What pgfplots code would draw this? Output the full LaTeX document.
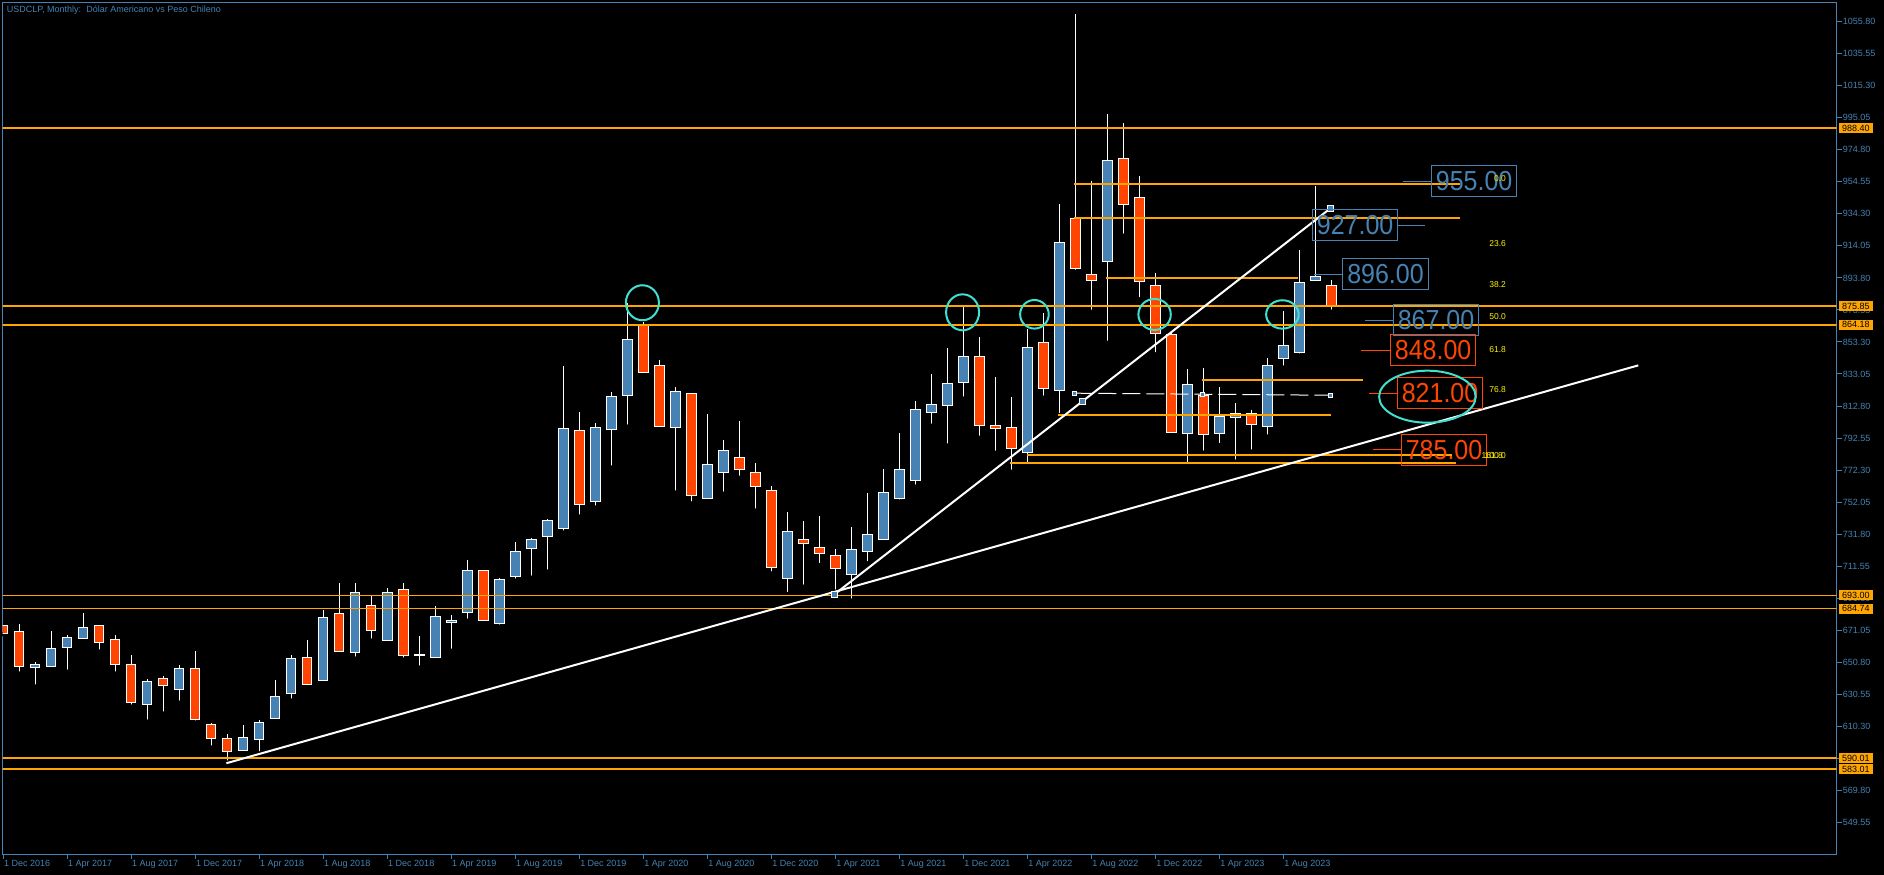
\documentclass[border=0pt]{standalone}
\usepackage{pgfplots}
\usepackage{pgfplotstable}
\pgfplotsset{compat=1.18}
\usepackage{fontspec}
\setmainfont{Liberation Sans}

\definecolor{mtblue}{RGB}{70,130,180}
\definecolor{mtred}{RGB}{255,69,0}
\definecolor{mtorange}{RGB}{255,165,0}
\definecolor{mtcyan}{RGB}{64,224,208}
\newcommand\sm{\fontsize{9bp}{10bp}\selectfont}
\newcommand\bigf{\fontsize{25bp}{25bp}\selectfont}

% monthly candles, i=0 is Dec 2016
\pgfplotstableread{
i o h l c
0 673.9 674.5 668.5 669.1
1 670.35 675.0 643.6 648.2
2 647.6 650.75 635.4 649.5
3 648.2 670.6 648.0 659.6
4 660.2 668.0 644.8 666.6
5 665.9 681.9 664.4 672.9
6 674.1 674.5 657.5 663.4
7 665.3 668.0 643.6 649.5
8 649.5 655.4 622.7 625.5
9 624.2 640.2 613.2 638.7
10 640.6 642.1 618.3 636.2
11 633.7 648.85 625.2 647.0
12 647.0 657.9 612.6 614.7
13 611.5 612.4 596.8 602.7
14 602.5 605.2 587.3 594.5
15 595.1 611.1 593.8 603.1
16 602.1 614.1 593.2 612.8
17 615.3 639.6 615.0 629.25
18 631.15 655.35 626.5 653.25
19 653.85 664.85 635.95 636.85
20 639.35 683.85 638.45 679.15
21 681.75 700.85 656.45 657.65
22 657.05 700.85 653.05 694.95
23 686.75 692.85 664.45 670.95
24 664.65 697.75 663.15 694.95
25 696.85 700.85 652.45 655.15
26 655.1 667.35 647.35 655.5
27 653.85 686.35 653.5 679.85
28 676.05 680.65 658.05 677.25
29 682.35 715.45 677.05 708.85
30 708.85 709.2 676.45 677.25
31 675.35 704.05 673.25 703.2
32 705.1 726.85 702.35 720.95
33 722.85 729.35 704.25 728.45
34 730.35 741.35 708.05 740.55
35 735.35 838.1 732.75 798.65
36 797.45 809.05 742.85 750.65
37 752.55 802.05 748.55 799.35
38 798.05 821.45 773.85 818.95
39 819.55 877.75 799.75 854.95
40 864.05 866.0 832.65 834.05
41 838.55 841.85 798.45 799.75
42 799.35 824.65 758.05 822.05
43 820.85 821.0 751.25 756.15
44 754.25 807.75 754.0 775.95
45 770.65 791.3 757.35 784.75
46 780.35 803.35 767.45 772.75
47 770.85 776.75 746.65 761.75
48 759.45 762.05 707.0 710.75
49 703.65 745.75 693.95 733.55
50 728.45 740.05 698.55 725.95
51 723.45 743.25 712.25 719.65
52 718.35 722.15 695.4 710.15
53 706.35 736.25 689.75 722.15
54 720.95 757.75 713.35 731.65
55 728.45 772.95 727.05 758.25
56 754.25 795.55 752.35 772.75
57 765.8 815.95 761.8 810.65
58 808.8 833.05 800.35 813.85
59 813.05 849.25 787.75 827.15
60 827.75 875.65 817.45 844.25
61 844.25 856.45 792.75 800.55
62 800.55 831.15 783.25 798.65
63 799.35 818.45 771.25 786.05
64 783.55 861.45 775.05 849.9
65 853.05 871.85 818.05 823.95
66 822.7 940.5 807.1 916.3
67 931.4 1060.67 897.7 899.8
68 896.0 955.05 872.4 892.2
69 904.0 997.4 852.8 968.1
70 969.4 991.7 920.5 940.3
71 944.7 958.2 880.4 891.6
72 889.1 896.7 845.5 858.7
73 858.1 859.0 794.5 796.1
74 795.4 836.2 775.1 826.5
75 819.6 836.8 783.3 794.9
76 795.35 824.85 788.15 806.25
77 805.65 814.7 777.6 808.15
78 808.15 810.25 783.95 801.25
79 799.75 842.95 793.45 838.55
80 842.95 872.85 837.05 851.15
81 846.75 911.45 844.65 891.0
82 892.25 951.95 891.25 894.75
83 889.1 892.45 872.45 876.45
}\candles

% short horizontal segments
\pgfplotstableread{
x y
66.94 953.0
91.06 953.0
nan nan
66.94 931.9
91.06 931.9
nan nan
68.96 893.9
80.94 893.9
nan nan
74.94 829.2
84.98 829.2
nan nan
65.94 807.1
82.98 807.1
nan nan
63.98 781.8
90.54 781.8
nan nan
62.94 776.9
90.79 776.9
}\segs

\pgfplotsset{mtaxis/.style={
  at={(2.7bp,21bp)}, anchor=south west, scale only axis,
  width=1834bp, height=851.7bp,
  xmin=-0.02, xmax=114.6, ymin=529.5, ymax=1068.1}}

\begin{document}
\begin{tikzpicture}
\useasboundingbox (0,0) rectangle (1884bp,875bp);
\fill[black] (0,0) rectangle (1884bp,875bp);

% frame, ticks, wicks
\begin{axis}[mtaxis,
  axis line style={draw=mtblue, line width=1bp},
  tick align=outside, major tick length=5bp,
  tick style={draw=mtblue, line width=1bp},
  xtick pos=left, ytick pos=right, yticklabel pos=right,
  ticklabel style={font=\sm, text=mtblue, inner sep=0pt},
  /pgf/number format/assume math mode=true,
  ytick={549.55,569.80,590.05,610.30,630.55,650.80,671.05,691.30,711.55,731.80,752.05,772.30,792.55,812.80,833.05,853.30,873.55,893.80,914.05,934.30,954.55,974.80,995.05,1015.30,1035.55,1055.80},
  yticklabel style={anchor=west, xshift=1bp,
    /pgf/number format/.cd, fixed, fixed zerofill, precision=2, 1000 sep={}},
  xtick={0,4,...,80},
  xticklabels={1 Dec 2016,1 Apr 2017,1 Aug 2017,1 Dec 2017,1 Apr 2018,1 Aug 2018,1 Dec 2018,1 Apr 2019,1 Aug 2019,1 Dec 2019,1 Apr 2020,1 Aug 2020,1 Dec 2020,1 Apr 2021,1 Aug 2021,1 Dec 2021,1 Apr 2022,1 Aug 2022,1 Dec 2022,1 Apr 2023,1 Aug 2023},
  xticklabel style={anchor=north west, xshift=1bp, yshift=-1bp},
]
\addplot[only marks, mark=none,
  error bars/.cd, y dir=plus, y explicit, error mark=none,
  error bar style={draw=white, line width=1bp}]
  table[x=i, y=l, y error expr=\thisrow{h}-\thisrow{l}] {\candles};
\end{axis}

% candle bodies
\begin{axis}[mtaxis, hide axis, ybar stacked, bar width=0.62]
\addplot[draw=none, fill=none] table[x=i, y expr={min(\thisrow{o},\thisrow{c})}] {\candles};
\addplot[fill=mtblue, draw=white, line width=1bp] table[x=i, y expr={max(\thisrow{c}-\thisrow{o},0)}] {\candles};
\addplot[fill=mtred, draw=white, line width=1bp] table[x=i, y expr={max(\thisrow{o}-\thisrow{c},0)}] {\candles};
\end{axis}

% objects on the chart
\begin{axis}[mtaxis, hide axis, clip mode=individual]
\pgfplotsinvokeforeach{988.40,875.85,864.18,693.00,684.74,590.01,583.01}{
  \addplot[mtorange, line width=1.8bp] coordinates {(-5,#1) (120,#1)};
}
\addplot[mtorange, line width=1.8bp, unbounded coords=jump] table {\segs};

% trend lines
\addplot[white, line width=2bp] coordinates {(13.96,586.9) (102.2,838.5)};
\addplot[white, line width=2bp] coordinates {(51.96,693.7) (82.96,937.8)};
\addplot[white, line width=1bp, dash pattern=on 18bp off 6bp] coordinates {(66.96,820.9) (82.96,819.6)};
\addplot[only marks, mark=square*, mark size=2.6bp, mark options={fill=mtblue, draw=white, line width=0.8bp}]
  coordinates {(51.96,693.7) (67.46,815.75) (82.96,937.8)};
\addplot[only marks, mark=square*, mark size=2.2bp, mark options={fill=mtblue, draw=white, line width=0.8bp}]
  coordinates {(66.96,820.9) (74.96,820.3) (82.96,819.6)};

% connectors of the price boxes
\addplot[mtblue, line width=1bp, unbounded coords=jump] coordinates {
  (87.5,955) (89.25,955) (nan,nan) (87.2,927) (88.9,927) (nan,nan)
  (81.96,896) (83.7,896) (nan,nan) (85.1,867) (86.9,867)};
\addplot[mtred, line width=1bp, unbounded coords=jump] coordinates {
  (84.9,848) (86.7,848) (nan,nan) (85.4,821) (87.1,821) (nan,nan)
  (85.6,785) (87.4,785)};

% circles
\draw[mtcyan, line width=2bp] (axis cs:39.96,878.1) ellipse [x radius=16.5bp, y radius=17.5bp];
\draw[mtcyan, line width=2bp] (axis cs:59.97,872.05) ellipse [x radius=16.5bp, y radius=18bp];
\draw[mtcyan, line width=2bp] (axis cs:64.46,870.8) ellipse [x radius=14.3bp, y radius=14.3bp];
\draw[mtcyan, line width=2bp] (axis cs:71.97,870.7) ellipse [x radius=16.2bp, y radius=15.5bp];
\draw[mtcyan, line width=2bp] (axis cs:79.96,870.7) ellipse [x radius=16.3bp, y radius=14.2bp];

% price boxes
\tikzset{pbox/.style={draw=#1, text=#1, line width=1bp, inner sep=0pt,
  minimum width=85.4bp, minimum height=31bp, font=\bigf}}
\node[pbox=mtblue] at (axis cs:91.94,955.1) {\scalebox{1}[1.1]{955.00}};
\node[pbox=mtblue] at (axis cs:84.5,927.4) {\scalebox{1}[1.1]{927.00}};
\node[pbox=mtblue] at (axis cs:86.4,896.4) {\scalebox{1}[1.1]{896.00}};
\node[pbox=mtblue] at (axis cs:89.56,867.3) {\scalebox{1}[1.1]{867.00}};
\node[pbox=mtred] at (axis cs:89.375,848.3) {\scalebox{1}[1.1]{848.00}};
\node[pbox=mtred] at (axis cs:89.81,821.15) {\scalebox{1}[1.1]{821.00}};
\node[pbox=mtred] at (axis cs:90.06,785.1) {\scalebox{1}[1.1]{785.00}};
\draw[mtcyan, line width=2bp] (axis cs:89.02,818.7) ellipse [x radius=48.3bp, y radius=26bp];

% fibonacci level texts
\tikzset{fib/.style={anchor=east, text=yellow, inner sep=0pt, font=\fontsize{8.5bp}{9bp}\selectfont}}
\node[fib] at (axis cs:93.94,956.8) {0.0};
\node[fib] at (axis cs:93.94,915.4) {23.6};
\node[fib] at (axis cs:93.94,889.5) {38.2};
\node[fib] at (axis cs:93.94,869.3) {50.0};
\node[fib] at (axis cs:93.94,848.7) {61.8};
\node[fib] at (axis cs:93.94,823.4) {76.8};
\node[fib] at (axis cs:93.94,781.6) {100.0};
\node[fib] at (axis cs:93.75,781.6) {161.8};

% labels of the horizontal lines
\pgfplotsinvokeforeach{988.40,875.85,864.18,693.00,684.74,590.01,583.01}{
  \node[anchor=west, fill=mtorange, text=black, inner sep=0pt, minimum width=34bp,
    minimum height=10bp, font=\sm, xshift=2bp] at (axis cs:114.6,#1) {#1};
}

\node[anchor=west, text=mtblue, font=\sm, inner sep=0pt] at (axis cs:0.23,1063.2)
  {USDCLP, Monthly:\ \ Dólar Americano vs Peso Chileno};
\end{axis}
\end{tikzpicture}
\end{document}
